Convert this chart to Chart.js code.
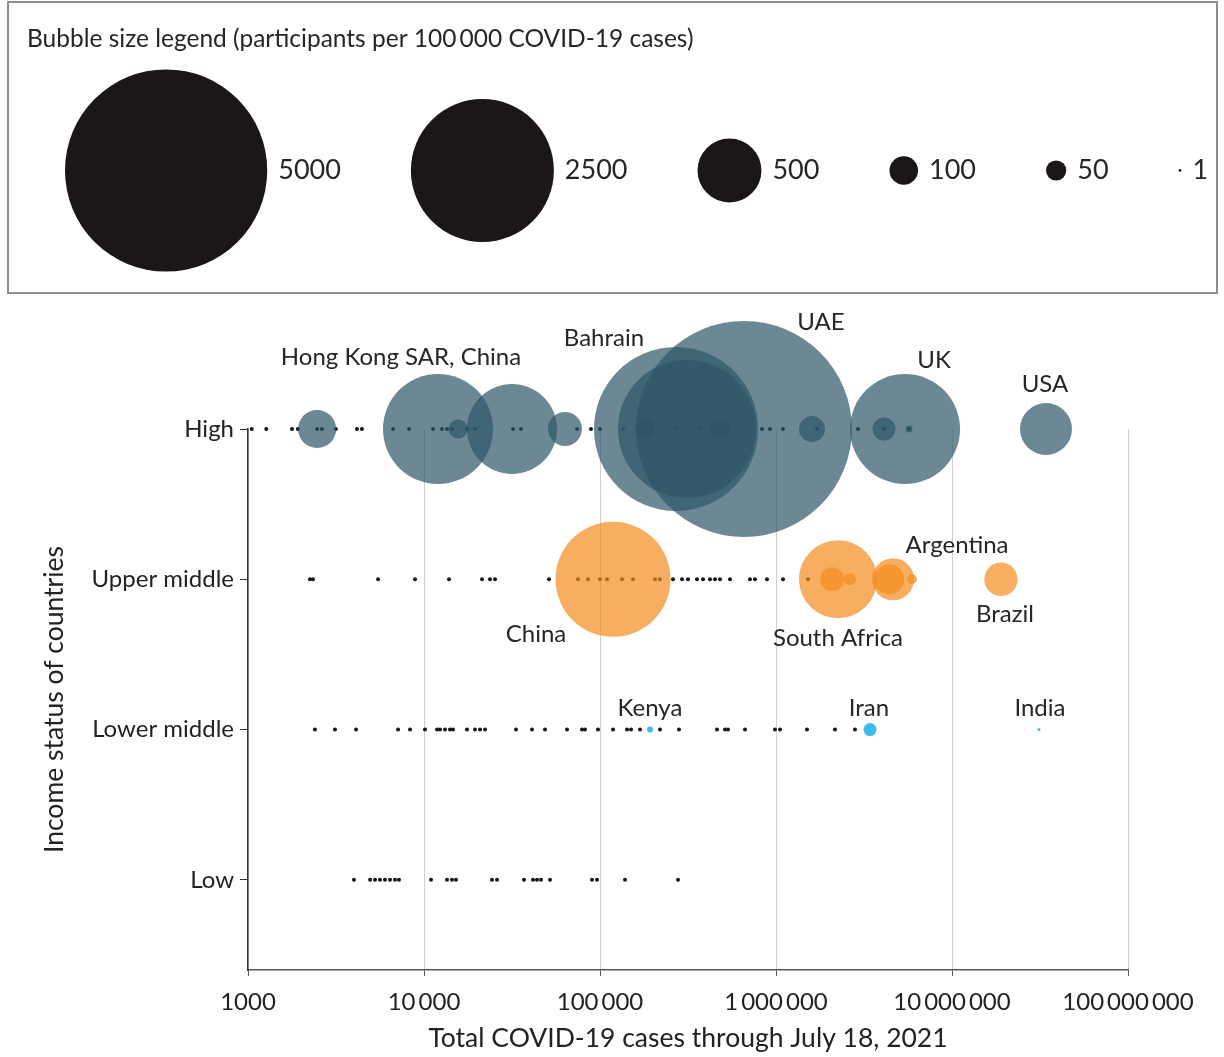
<!DOCTYPE html>
<html>
<head>
<meta charset="utf-8">
<script src="https://cdn.jsdelivr.net/npm/chart.js@4.4.1/dist/chart.umd.min.js"></script>
<style>
  html, body { margin: 0; padding: 0; background: #fff; }
  body { width: 1224px; height: 1057px; position: relative; overflow: hidden; }
  #legendBox { position: absolute; left: 7px; top: 1px; width: 1211px; height: 293px;
               box-sizing: border-box; border: 2px solid #8e8e8e; }
  #legendBox canvas { position: absolute; left: 0; top: 0; }
  #main { position: absolute; left: 0; top: 294px; }
</style>
</head>
<body>
<div id="legendBox"><canvas id="legend" width="1207" height="289"></canvas></div>
<canvas id="main" width="1224" height="763"></canvas>
<script>
const FONT = "Lato, 'Noto Sans', sans-serif";

const rowNames = ["Low", "Lower middle", "Upper middle", "High"];
const xTicks = [1e3, 1e4, 1e5, 1e6, 1e7, 1e8];
const legendValues = [5000, 2500, 500, 100, 50, 1];

// countries with very few participants (plain dots), total cases
const dotsHigh = [1050, 1270, 1780, 1920, 2470, 2630, 3160, 4160, 4440, 6670, 8220, 11250, 12660,
  13510, 14430, 17550, 19490, 32040, 35570, 74020, 88890, 100000, 135100, 180200, 270300, 370000,
  480700, 832700, 924500, 1096000, 1710000, 2924000, 4108000, 5697000];
const dotsUpper = [2250, 2340, 5480, 8890, 13870, 21350, 23710, 25320, 51310, 74990, 85470, 100000,
  109600, 133400, 154000, 205400, 219200, 259900, 292400, 316200, 355700, 384800, 421700, 450200,
  480700, 547700, 711700, 759800, 888900, 1096000, 1520000];
const dotsLower = [2400, 3120, 4110, 7120, 8330, 10130, 11860, 12330, 13160, 14050, 14610, 17550,
  19490, 20810, 22220, 33320, 41080, 48700, 64940, 79030, 82180, 97410, 118600, 142400, 150100,
  168800, 219200, 281100, 462100, 513100, 533700, 666600, 987000, 1054000, 1500000, 2163000, 2811000];
const dotsLow = [4000, 4940, 5270, 5620, 6000, 6410, 6840, 7210, 10960, 13510, 14430, 15200, 24350,
  25990, 37000, 41620, 43850, 46220, 51990, 90060, 96160, 138700, 277500];

// bubbles: total cases, participants per 100 000 cases
const highCases = [2470, 12010, 15610, 31620, 63250, 180200, 270300, 311900, 480700, 657700,
  1601000, 4108000, 5697000, 5408000, 34200000];
const highRate = [177, 1480, 44, 990, 141, 49, 3290, 2330, 49, 5700, 83, 65, 6, 1480, 330];
const highNames = ["", "Hong Kong SAR, China", "", "", "", "", "Bahrain", "", "", "UAE", "", "", "", "UK", "USA"];

const upperCases = [118600, 2250000, 2081000, 2633000, 4624000, 4400000, 5926000, 18970000];
const upperRate = [1617, 744, 70, 18, 216, 110, 12, 136];
const upperNames = ["China", "South Africa", "", "", "Argentina", "", "", "Brazil"];

const lowerCases = [192400, 3420000, 31200000];
const lowerRate = [4.4, 20.7, 1.1];
const lowerNames = ["Kenya", "Iran", "India"];

// area-proportional bubble radius in px
const bubbleRadius = v => 1.43 * Math.sqrt(v);

// label placement relative to the bubble centre (px)
const labelOffsets = {
  "Hong Kong SAR, China": [-37, -72],
  "Bahrain": [-72, -91],
  "UAE": [77, -107],
  "UK": [29, -69],
  "USA": [-1, -45],
  "China": [-77, 55],
  "South Africa": [0, 59],
  "Argentina": [64, -34],
  "Brazil": [4, 35],
  "Kenya": [0, -21],
  "Iran": [-1, -21],
  "India": [1, -21]
};

function fmtNum(v) {
  const s = String(Math.round(v));
  if (s.length <= 4) return s;
  return s.replace(/\B(?=(\d{3})+(?!\d))/g, "\u2009");
}

function bubbles(cases, rates, row) {
  return cases.map((c, i) => ({ x: c, y: row, r: bubbleRadius(rates[i]) }));
}

function dots(cases, row) {
  return cases.map(c => ({ x: c, y: row }));
}

const countryLabels = {
  id: "countryLabels",
  afterDatasetsDraw(chart) {
    const ctx = chart.ctx;
    ctx.save();
    ctx.font = "24px " + FONT;
    ctx.fillStyle = "#262626";
    ctx.textAlign = "center";
    ctx.textBaseline = "middle";
    chart.data.datasets.forEach((ds, i) => {
      if (!ds.names) return;
      const meta = chart.getDatasetMeta(i);
      ds.names.forEach((n, j) => {
        if (!n) return;
        const el = meta.data[j];
        const off = labelOffsets[n];
        ctx.fillText(n, el.x + off[0], el.y + off[1]);
      });
    });
    ctx.restore();
  }
};

function drawMain() {
  new Chart(document.getElementById("main"), {
    type: "bubble",
    data: {
      datasets: [
        { data: bubbles(highCases, highRate, 4), names: highNames,
          backgroundColor: "rgba(45,85,102,0.7)", borderWidth: 0, clip: false },
        { data: bubbles(upperCases, upperRate, 3), names: upperNames,
          backgroundColor: "rgba(243,140,28,0.7)", borderWidth: 0, clip: false },
        { data: bubbles(lowerCases, lowerRate, 2), names: lowerNames,
          backgroundColor: "rgba(40,180,235,0.9)", borderWidth: 0, clip: false },
        { type: "scatter",
          data: [].concat(dots(dotsHigh, 4), dots(dotsUpper, 3), dots(dotsLower, 2), dots(dotsLow, 1)),
          pointRadius: 2, backgroundColor: "#161616", borderWidth: 0, clip: false }
      ]
    },
    options: {
      responsive: false,
      animation: false,
      events: [],
      devicePixelRatio: 1,
      layout: { autoPadding: false, padding: { top: 135, right: 96, left: 0, bottom: 0 } },
      plugins: { legend: { display: false }, tooltip: { enabled: false } },
      scales: {
        x: {
          type: "logarithmic",
          min: 1e3, max: 1e8,
          afterBuildTicks: s => { s.ticks = xTicks.map(v => ({ value: v })); },
          afterFit: s => { s.height = 87; },
          ticks: { callback: v => fmtNum(v), color: "#222", padding: 12,
                   font: { family: FONT, size: 24 }, maxRotation: 0, autoSkip: false },
          grid: { color: "#cfcfcf", lineWidth: 1, tickLength: 6, tickColor: "#555" },
          border: { color: "#555", width: 1.5 },
          title: { display: true, text: "Total COVID-19 cases through July 18, 2021", color: "#222",
                   font: { family: FONT, size: 26.5 }, padding: { top: 0, bottom: 3 } }
        },
        y: {
          type: "linear",
          min: 0.4, max: 4,
          afterBuildTicks: s => { s.ticks = [1, 2, 3, 4].map(v => ({ value: v })); },
          afterFit: s => { s.width = 248; },
          ticks: { callback: v => rowNames[v - 1], color: "#222", padding: 6,
                   font: { family: FONT, size: 24 } },
          grid: { drawOnChartArea: false, tickLength: 8, tickColor: "#333" },
          border: { color: "#333", width: 1.5 },
          title: { display: true, text: "Income status of countries", color: "#222",
                   font: { family: FONT, size: 26.5 }, padding: { top: 39, bottom: 0 } }
        }
      }
    },
    plugins: [countryLabels]
  });
}

function drawLegend() {
  const canvas = document.getElementById("legend");
  const m = canvas.getContext("2d");
  m.font = "27px " + FONT;
  let cursor = 56;
  const pts = legendValues.map(v => {
    const r = bubbleRadius(v);
    const x = cursor + r;
    cursor = x + r + 11 + m.measureText(String(v)).width + 70;
    return { x: x, y: 0, r: r, v: v };
  });

  const legendText = {
    id: "legendText",
    afterDatasetsDraw(chart) {
      const ctx = chart.ctx;
      ctx.save();
      ctx.fillStyle = "#262626";
      ctx.textBaseline = "middle";
      ctx.textAlign = "left";
      ctx.font = "24.5px " + FONT;
      ctx.fillText("Bubble size legend (participants per 100\u2009000 COVID-19 cases)", 18, 36);
      ctx.font = "27px " + FONT;
      const meta = chart.getDatasetMeta(0);
      meta.data.forEach((el, i) => {
        const p = chart.data.datasets[0].data[i];
        ctx.fillText(fmtNum(p.v), el.x + p.r + 11, el.y);
      });
      ctx.restore();
    }
  };

  new Chart(canvas, {
    type: "bubble",
    data: { datasets: [{ data: pts, backgroundColor: "#1b1617", borderWidth: 0, clip: false }] },
    options: {
      responsive: false,
      animation: false,
      events: [],
      devicePixelRatio: 1,
      layout: { autoPadding: false, padding: { top: 46, left: 0, right: 0, bottom: 0 } },
      plugins: { legend: { display: false }, tooltip: { enabled: false } },
      scales: {
        x: { type: "linear", display: false, min: 0, max: canvas.width },
        y: { type: "linear", display: false, min: -1, max: 1 }
      }
    },
    plugins: [legendText]
  });
}

document.fonts.load("22px Lato").finally(() => {
  drawLegend();
  drawMain();
});
</script>
</body>
</html>
